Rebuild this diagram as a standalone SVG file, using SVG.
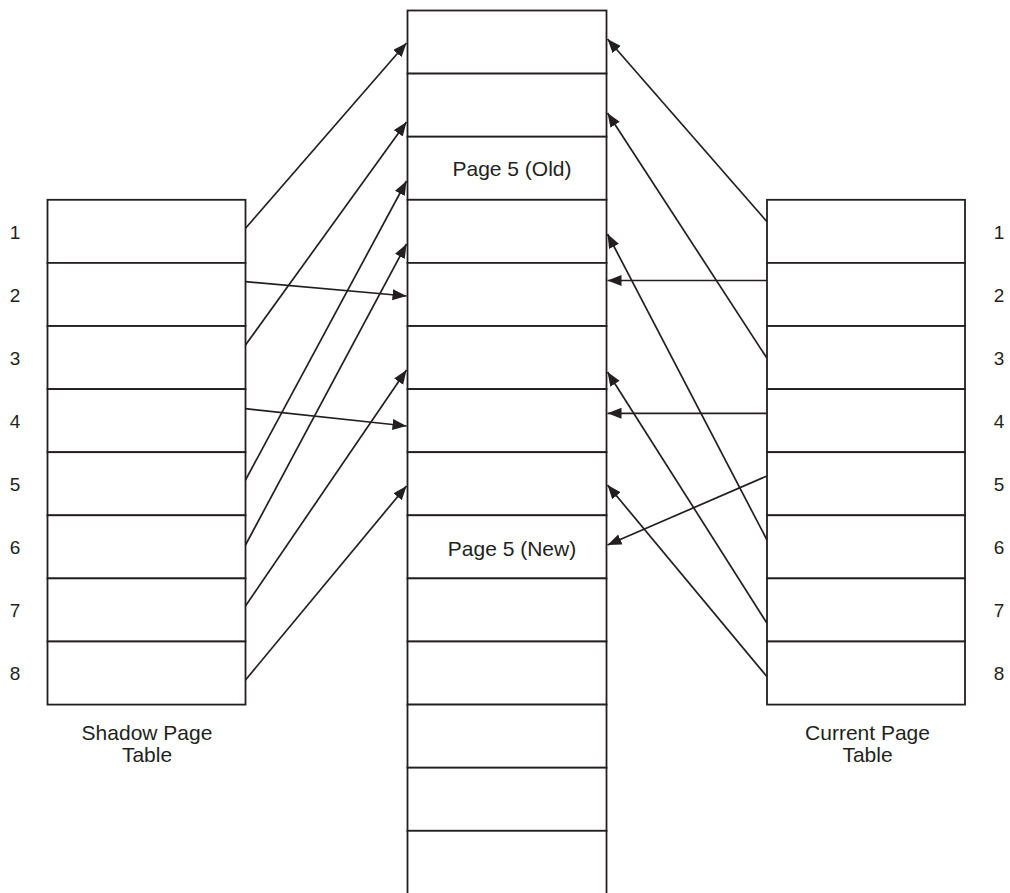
<svg xmlns="http://www.w3.org/2000/svg" width="1010" height="893" viewBox="0 0 1010 893">
  <style>
    .cell { fill: #ffffff; stroke: #231f20; stroke-width: 1.8; }
    .conn { fill: none; stroke: #231f20; stroke-width: 1.7; }
    .lbl { font-family: "Liberation Sans", Arial, sans-serif; font-size: 21px; fill: #231f20; text-anchor: middle; }
    .num { font-family: "Liberation Sans", Arial, sans-serif; font-size: 19px; fill: #231f20; text-anchor: middle; }
  </style>
  <defs>
    <marker id="arrow" markerUnits="userSpaceOnUse" markerWidth="15" markerHeight="13" refX="14" refY="5.5" orient="auto">
      <path d="M0,0 L14,5.5 L0,11 z" fill="#231f20"/>
    </marker>
  </defs>
  <rect width="1010" height="893" fill="#ffffff"/>

  <!-- Middle column (physical pages) -->
  <g id="memory">
    <g id="mem1"><rect class="cell" x="407.5" y="10.5" width="199" height="63.1"/></g>
    <g id="mem2"><rect class="cell" x="407.5" y="73.6" width="199" height="63.1"/></g>
    <g id="mem3"><rect class="cell" x="407.5" y="136.7" width="199" height="63.1"/><text class="lbl" x="512" y="176">Page 5 (Old)</text></g>
    <g id="mem4"><rect class="cell" x="407.5" y="199.8" width="199" height="63.1"/></g>
    <g id="mem5"><rect class="cell" x="407.5" y="262.9" width="199" height="63.1"/></g>
    <g id="mem6"><rect class="cell" x="407.5" y="326" width="199" height="63.1"/></g>
    <g id="mem7"><rect class="cell" x="407.5" y="389.1" width="199" height="63.1"/></g>
    <g id="mem8"><rect class="cell" x="407.5" y="452.2" width="199" height="63.1"/></g>
    <g id="mem9"><rect class="cell" x="407.5" y="515.3" width="199" height="63.1"/><text class="lbl" x="512" y="555.5">Page 5 (New)</text></g>
    <g id="mem10"><rect class="cell" x="407.5" y="578.4" width="199" height="63.1"/></g>
    <g id="mem11"><rect class="cell" x="407.5" y="641.5" width="199" height="63.1"/></g>
    <g id="mem12"><rect class="cell" x="407.5" y="704.6" width="199" height="63.1"/></g>
    <g id="mem13"><rect class="cell" x="407.5" y="767.7" width="199" height="63.1"/></g>
    <g id="mem14"><rect class="cell" x="407.5" y="830.8" width="199" height="80"/></g>
  </g>

  <!-- Shadow page table -->
  <g id="shadow">
    <g id="s1"><rect class="cell" x="47.5" y="199.8" width="198" height="63.1"/><text class="num" x="15" y="238.5">1</text></g>
    <g id="s2"><rect class="cell" x="47.5" y="262.9" width="198" height="63.1"/><text class="num" x="15" y="301.6">2</text></g>
    <g id="s3"><rect class="cell" x="47.5" y="326" width="198" height="63.1"/><text class="num" x="15" y="364.7">3</text></g>
    <g id="s4"><rect class="cell" x="47.5" y="389.1" width="198" height="63.1"/><text class="num" x="15" y="427.8">4</text></g>
    <g id="s5"><rect class="cell" x="47.5" y="452.2" width="198" height="63.1"/><text class="num" x="15" y="490.9">5</text></g>
    <g id="s6"><rect class="cell" x="47.5" y="515.3" width="198" height="63.1"/><text class="num" x="15" y="554">6</text></g>
    <g id="s7"><rect class="cell" x="47.5" y="578.4" width="198" height="63.1"/><text class="num" x="15" y="617.1">7</text></g>
    <g id="s8"><rect class="cell" x="47.5" y="641.5" width="198" height="63.1"/><text class="num" x="15" y="680.2">8</text></g>
    <text class="lbl" x="147" y="740">Shadow Page</text>
    <text class="lbl" x="147" y="762">Table</text>
  </g>

  <!-- Current page table -->
  <g id="current">
    <g id="c1"><rect class="cell" x="767" y="199.8" width="198" height="63.1"/><text class="num" x="999" y="238.5">1</text></g>
    <g id="c2"><rect class="cell" x="767" y="262.9" width="198" height="63.1"/><text class="num" x="999" y="301.6">2</text></g>
    <g id="c3"><rect class="cell" x="767" y="326" width="198" height="63.1"/><text class="num" x="999" y="364.7">3</text></g>
    <g id="c4"><rect class="cell" x="767" y="389.1" width="198" height="63.1"/><text class="num" x="999" y="427.8">4</text></g>
    <g id="c5"><rect class="cell" x="767" y="452.2" width="198" height="63.1"/><text class="num" x="999" y="490.9">5</text></g>
    <g id="c6"><rect class="cell" x="767" y="515.3" width="198" height="63.1"/><text class="num" x="999" y="554">6</text></g>
    <g id="c7"><rect class="cell" x="767" y="578.4" width="198" height="63.1"/><text class="num" x="999" y="617.1">7</text></g>
    <g id="c8"><rect class="cell" x="767" y="641.5" width="198" height="63.1"/><text class="num" x="999" y="680.2">8</text></g>
    <text class="lbl" x="867.5" y="740">Current Page</text>
    <text class="lbl" x="867.5" y="762">Table</text>
  </g>

  <!-- Connectors -->
  <g id="connectors">
    <line class="conn" marker-end="url(#arrow)" x1="245.5" y1="228.3" x2="406.5" y2="43"/>
    <line class="conn" marker-end="url(#arrow)" x1="245.5" y1="281.7" x2="406.5" y2="296"/>
    <line class="conn" marker-end="url(#arrow)" x1="245.5" y1="345" x2="406.5" y2="122"/>
    <line class="conn" marker-end="url(#arrow)" x1="245.5" y1="408.7" x2="406.5" y2="426"/>
    <line class="conn" marker-end="url(#arrow)" x1="245.5" y1="480" x2="406.5" y2="181"/>
    <line class="conn" marker-end="url(#arrow)" x1="245.5" y1="545" x2="406.5" y2="244"/>
    <line class="conn" marker-end="url(#arrow)" x1="245.5" y1="606" x2="406.5" y2="370"/>
    <line class="conn" marker-end="url(#arrow)" x1="245.5" y1="680" x2="406.5" y2="486"/>

    <line class="conn" marker-end="url(#arrow)" x1="767" y1="221.7" x2="607.5" y2="39"/>
    <line class="conn" marker-end="url(#arrow)" x1="767" y1="280.5" x2="607.5" y2="280.5"/>
    <line class="conn" marker-end="url(#arrow)" x1="767" y1="358.3" x2="607.5" y2="113"/>
    <line class="conn" marker-end="url(#arrow)" x1="767" y1="413.3" x2="607.5" y2="413.3"/>
    <line class="conn" marker-end="url(#arrow)" x1="767" y1="476" x2="607.5" y2="545"/>
    <line class="conn" marker-end="url(#arrow)" x1="767" y1="540" x2="607.5" y2="234"/>
    <line class="conn" marker-end="url(#arrow)" x1="767" y1="623.3" x2="607.5" y2="372"/>
    <line class="conn" marker-end="url(#arrow)" x1="767" y1="676.7" x2="607.5" y2="485"/>
  </g>
</svg>
